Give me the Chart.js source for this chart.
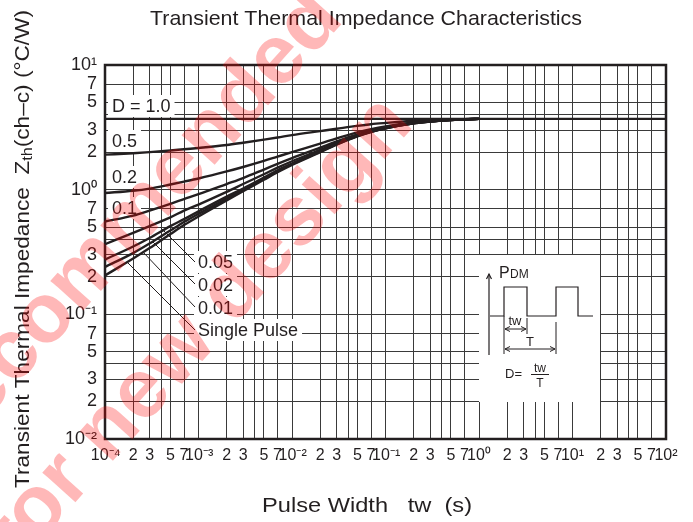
<!DOCTYPE html>
<html>
<head>
<meta charset="utf-8">
<script src="https://cdn.jsdelivr.net/npm/chart.js@4.4.1/dist/chart.umd.min.js"></script>
<style>
  html, body { margin: 0; padding: 0; background: #fff; }
</style>
</head>
<body>
<canvas id="chart" width="693" height="522"></canvas>
<script>
// pulse width tw (s) where the curves were read
const pulseWidths = [1e-4, 2e-4, 3e-4, 5e-4, 7e-4, 1e-3, 2e-3, 3e-3, 5e-3, 7e-3, 1e-2,
                     2e-2, 3e-2, 5e-2, 7e-2, 1e-1, 2e-1, 3e-1, 5e-1, 7e-1, 1];

// Zth(ch-c) in °C/W, one array per duty cycle
const duty05  = [1.91, 1.96, 2.00, 2.06, 2.11, 2.16, 2.28, 2.38, 2.52, 2.62, 2.74, 2.95, 3.08, 3.25, 3.35, 3.43, 3.57, 3.62, 3.66, 3.68, 3.70];
const duty02  = [0.94, 0.98, 1.02, 1.10, 1.16, 1.23, 1.40, 1.52, 1.70, 1.84, 2.00, 2.34, 2.58, 2.88, 3.06, 3.22, 3.46, 3.56, 3.63, 3.67, 3.70];
const duty01  = [0.555, 0.62, 0.68, 0.77, 0.84, 0.92, 1.11, 1.24, 1.45, 1.61, 1.79, 2.17, 2.44, 2.78, 2.98, 3.16, 3.43, 3.54, 3.63, 3.67, 3.70];
const duty005 = [0.365, 0.45, 0.51, 0.60, 0.68, 0.76, 0.96, 1.11, 1.33, 1.50, 1.69, 2.09, 2.37, 2.73, 2.94, 3.13, 3.42, 3.53, 3.62, 3.67, 3.70];
const duty002 = [0.275, 0.35, 0.41, 0.51, 0.58, 0.67, 0.88, 1.02, 1.25, 1.43, 1.62, 2.03, 2.33, 2.70, 2.92, 3.11, 3.41, 3.52, 3.62, 3.67, 3.70];
const duty001 = [0.24, 0.31, 0.37, 0.47, 0.55, 0.64, 0.85, 1.00, 1.22, 1.40, 1.60, 2.02, 2.31, 2.69, 2.91, 3.11, 3.40, 3.52, 3.62, 3.67, 3.70];
const singlePulse = [0.205, 0.28, 0.34, 0.44, 0.52, 0.61, 0.82, 0.97, 1.20, 1.38, 1.58, 2.00, 2.30, 2.68, 2.90, 3.10, 3.40, 3.52, 3.62, 3.67, 3.70];

// D = 1.0 is flat over the whole range
const duty1X = [1e-4, 1e2];
const duty1Y = [3.70, 3.70];

const xTickValues = [1e-4, 2e-4, 3e-4, 4e-4, 5e-4, 7e-4, 1e-3, 2e-3, 3e-3, 4e-3, 5e-3, 7e-3,
                     1e-2, 2e-2, 3e-2, 4e-2, 5e-2, 7e-2, 1e-1, 2e-1, 3e-1, 4e-1, 5e-1, 7e-1,
                     1, 2, 3, 4, 5, 7, 10, 20, 30, 40, 50, 70, 100];
const xTickLabels = ['\u200a10⁻⁴', '2', '3', '', '5', '7', '\u200a10⁻³', '2', '3', '', '5', '7',
                     '\u200a10⁻²', '2', '3', '', '5', '7', '\u200a10⁻¹', '2', '3', '', '5', '7',
                     '10⁰', '2', '3', '', '5', '7', '10¹', '2', '3', '', '5', '7', '10²'];
const yTickValues = [0.01, 0.02, 0.03, 0.04, 0.05, 0.07, 0.1, 0.2, 0.3, 0.4, 0.5, 0.7,
                     1, 2, 3, 4, 5, 7, 10];
const yTickLabels = ['10⁻²', '2', '3', '', '5', '7', '10⁻¹', '2', '3', '', '5', '7',
                     '10⁰', '2', '3', '', '5', '7', '10¹'];

const INK = '#231f20';
const FONT = "'Liberation Sans', Arial, sans-serif";

const curveLabels = [
    { text: 'D = 1.0', x: 112, y: 112 },
    { text: '0.5', x: 112, y: 147 },
    { text: '0.2', x: 112, y: 183 },
    { text: '0.1', x: 112, y: 214 },
    { text: '0.05', x: 198, y: 268 },
    { text: '0.02', x: 198, y: 291 },
    { text: '0.01', x: 198, y: 314 },
    { text: 'Single Pulse', x: 198, y: 336 }
];
const leaders = [
    [160, 227, 195, 262],
    [153, 242, 195, 284],
    [143, 252, 195, 307],
    [128, 263, 195, 330]
];

const toPoints = (ys) => pulseWidths.map((x, i) => ({ x: x, y: ys[i] }));

const curve = (label, points) => ({
    label: label,
    data: points,
    borderColor: INK,
    borderWidth: 2.4,
    pointRadius: 0,
    fill: false,
    cubicInterpolationMode: 'monotone'
});

const fitText = (ctx, text, x, y, width) => {
    const w = ctx.measureText(text).width;
    ctx.save();
    ctx.translate(x, y);
    ctx.scale(width / w, 1);
    ctx.fillText(text, 0, 0);
    ctx.restore();
}

const arrowHead = (ctx, x, y, dx, dy) => {
    // open arrow head pointing along (dx, dy)
    const s = 5, h = 2.5;
    ctx.beginPath();
    ctx.moveTo(x - dx * s - dy * h, y - dy * s - dx * h);
    ctx.lineTo(x, y);
    ctx.lineTo(x - dx * s + dy * h, y - dy * s + dx * h);
    ctx.stroke();
}

const extras = {
    id: 'extras',
    beforeDatasetsDraw(chart) {
        const ctx = chart.ctx;
        ctx.save();
        ctx.font = '18px ' + FONT;
        ctx.fillStyle = '#fff';
        curveLabels.forEach((l) => {
            const w = ctx.measureText(l.text).width;
            ctx.fillRect(l.x - 4, l.y - 17, w + 8, 22);
        });
        // inset box for the pulse sketch
        ctx.fillRect(479, 255, 121, 147);
        ctx.restore();
    },
    afterDatasetsDraw(chart) {
        const ctx = chart.ctx;
        const a = chart.chartArea;
        ctx.save();
        ctx.strokeStyle = INK;
        ctx.fillStyle = INK;

        // frame
        ctx.lineWidth = 2.5;
        ctx.strokeRect(a.left, a.top, a.right - a.left, a.bottom - a.top);

        // curve labels and leaders
        ctx.font = '18px ' + FONT;
        ctx.textBaseline = 'alphabetic';
        curveLabels.forEach((l) => ctx.fillText(l.text, l.x, l.y));
        ctx.lineWidth = 1;
        leaders.forEach((p) => {
            ctx.beginPath();
            ctx.moveTo(p[0], p[1]);
            ctx.lineTo(p[2], p[3]);
            ctx.stroke();
        });

        // pulse sketch
        ctx.lineWidth = 1.2;
        ctx.beginPath();
        ctx.moveTo(489, 355);
        ctx.lineTo(489, 274);
        ctx.stroke();
        arrowHead(ctx, 489, 274, 0, -1);
        ctx.beginPath();
        ctx.moveTo(490, 316);
        ctx.lineTo(504, 316); ctx.lineTo(504, 287); ctx.lineTo(527, 287); ctx.lineTo(527, 316);
        ctx.lineTo(556, 316); ctx.lineTo(556, 287); ctx.lineTo(578, 287); ctx.lineTo(578, 316);
        ctx.lineTo(593, 316);
        ctx.stroke();
        ctx.lineWidth = 1;
        ctx.beginPath();
        ctx.moveTo(504, 316); ctx.lineTo(504, 354);
        ctx.moveTo(527, 318); ctx.lineTo(527, 334);
        ctx.moveTo(556, 322); ctx.lineTo(556, 354);
        ctx.moveTo(505, 329); ctx.lineTo(526, 329);
        ctx.moveTo(505, 349); ctx.lineTo(555, 349);
        ctx.stroke();
        arrowHead(ctx, 505, 329, -1, 0);
        arrowHead(ctx, 526, 329, 1, 0);
        arrowHead(ctx, 505, 349, -1, 0);
        arrowHead(ctx, 555, 349, 1, 0);

        ctx.font = '16px ' + FONT;
        ctx.fillText('P', 499, 278);
        ctx.font = '12px ' + FONT;
        ctx.fillText('DM', 510, 278);
        ctx.font = '13px ' + FONT;
        ctx.textAlign = 'center';
        ctx.fillText('tw', 515, 325);
        ctx.fillText('T', 530, 346);
        ctx.textAlign = 'left';
        ctx.fillText('D=', 505, 378);
        ctx.font = '12px ' + FONT;
        ctx.textAlign = 'center';
        ctx.fillText('tw', 540, 372);
        ctx.fillText('T', 540, 387);
        ctx.beginPath();
        ctx.moveTo(531, 374.5); ctx.lineTo(549, 374.5);
        ctx.stroke();
        ctx.textAlign = 'left';

        // titles
        ctx.font = '21px ' + FONT;
        fitText(ctx, 'Transient Thermal Impedance Characteristics', 150, 25, 432);
        fitText(ctx, 'Pulse Width   tw  (s)', 262, 512, 210);

        // y title, rotated
        ctx.save();
        ctx.translate(29, 488);
        ctx.rotate(-Math.PI / 2);
        ctx.font = '21px ' + FONT;
        const p1 = 'Transient Thermal Impedance  Z';
        const p2 = 'th';
        const p3 = '(ch\u2013c) (\u00b0C/W)';
        const w1 = ctx.measureText(p1).width;
        const w3 = ctx.measureText(p3).width;
        ctx.font = '15px ' + FONT;
        const w2 = ctx.measureText(p2).width;
        const k = 478 / (w1 + w2 + w3);
        ctx.scale(k, 1);
        ctx.font = '21px ' + FONT;
        ctx.fillText(p1, 0, 0);
        ctx.font = '15px ' + FONT;
        ctx.fillText(p2, w1, 3);
        ctx.font = '21px ' + FONT;
        ctx.fillText(p3, w1 + w2, 0);
        ctx.restore();

        ctx.restore();
    },
    afterDraw(chart) {
        // "not recommended for new design" stamp
        const ctx = chart.ctx;
        ctx.save();
        ctx.fillStyle = 'rgba(255, 0, 0, 0.28)';
        ctx.font = 'bold 84px ' + FONT;
        ctx.textAlign = 'right';
        const ang = -48 * Math.PI / 180;
        ctx.save();
        ctx.translate(345, 20);
        ctx.rotate(ang);
        ctx.fillText('Not recommended', 0, 0);
        ctx.restore();
        ctx.save();
        ctx.translate(415, 125);
        ctx.rotate(ang);
        ctx.fillText('for new design', 0, 0);
        ctx.restore();
        ctx.restore();
    }
};

const ctx = document.getElementById('chart').getContext('2d');
const chart = new Chart(ctx, {
    type: 'line',
    data: {
        datasets: [
            curve('D = 1.0', duty1X.map((x, i) => ({ x: x, y: duty1Y[i] }))),
            curve('0.5', toPoints(duty05)),
            curve('0.2', toPoints(duty02)),
            curve('0.1', toPoints(duty01)),
            curve('0.05', toPoints(duty005)),
            curve('0.02', toPoints(duty002)),
            curve('0.01', toPoints(duty001)),
            curve('Single Pulse', toPoints(singlePulse))
        ]
    },
    options: {
        responsive: false,
        animation: false,
        devicePixelRatio: 1,
        layout: { padding: { top: 65, right: 27, left: 0, bottom: 0 } },
        plugins: {
            legend: { display: false },
            tooltip: { enabled: false }
        },
        scales: {
            x: {
                type: 'logarithmic',
                min: 1e-4,
                max: 1e2,
                afterBuildTicks: (scale) => { scale.ticks = xTickValues.map((v) => ({ value: v })); },
                afterFit: (scale) => { scale.height = 83; },
                grid: { color: '#3a3a3a', lineWidth: 1, drawTicks: false },
                border: { display: false },
                ticks: {
                    autoSkip: false,
                    maxRotation: 0,
                    padding: 7,
                    color: INK,
                    font: { family: FONT, size: 16 },
                    callback: (v, i) => xTickLabels[i]
                }
            },
            y: {
                type: 'logarithmic',
                min: 0.01,
                max: 10,
                afterBuildTicks: (scale) => { scale.ticks = yTickValues.map((v) => ({ value: v })); },
                afterFit: (scale) => { scale.width = 105; },
                grid: { color: '#3a3a3a', lineWidth: 1, drawTicks: false },
                border: { display: false },
                ticks: {
                    autoSkip: false,
                    padding: 8,
                    color: INK,
                    font: { family: FONT, size: 18 },
                    callback: (v, i) => yTickLabels[i]
                }
            }
        }
    },
    plugins: [extras]
});
</script>
</body>
</html>
